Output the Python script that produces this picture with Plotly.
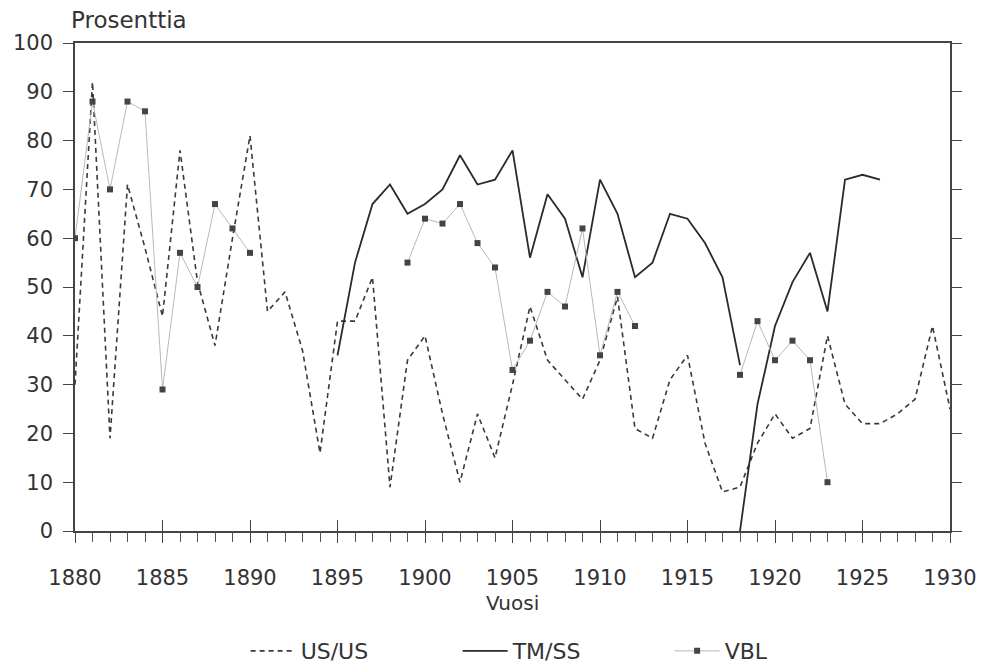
import plotly.graph_objects as go

us_years = list(range(1880, 1931))
us_values = [30, 92, 19, 71, 58, 44, 78, 51, 38, 60, 81, 45, 49, 37, 16, 43, 43, 52, 9, 35,
             40, 24, 10, 24, 15, 30, 46, 35, 31, 27, 35, 48, 21, 19, 31, 36, 18, 8, 9, 18,
             24, 19, 21, 40, 26, 22, 22, 24, 27, 42, 25]

tm_years = list(range(1895, 1919)) + [None] + list(range(1918, 1927))
tm_values = [36, 55, 67, 71, 65, 67, 70, 77, 71, 72, 78, 56, 69, 64, 52, 72, 65, 52, 55, 65,
             64, 59, 52, 34, None, 0, 26, 42, 51, 57, 45, 72, 73, 72]

vbl_years = list(range(1880, 1924))
vbl_values = [60, 88, 70, 88, 86, 29, 57, 50, 67, 62, 57,
              None, None, None, None, None, None, None, None,
              55, 64, 63, 67, 59, 54, 33, 39, 49, 46, 62, 36, 49, 42,
              None, None, None, None, None,
              32, 43, 35, 39, 35, 10]

series_names = ["US/US", "TM/SS", "VBL"]
y_title = "Prosenttia"
x_title = "Vuosi"

FONT = "DejaVu Sans"
TXT = "#333333"

fig = go.Figure()
fig.add_trace(go.Scatter(x=us_years, y=us_values, name=series_names[0], mode="lines",
                         line=dict(color="#3a3a3a", width=1.6, dash="5px,4px")))
fig.add_trace(go.Scatter(x=tm_years, y=tm_values, name=series_names[1], mode="lines",
                         connectgaps=False,
                         line=dict(color="#2a2a2a", width=1.8)))
fig.add_trace(go.Scatter(x=vbl_years, y=vbl_values, name=series_names[2], mode="lines+markers",
                         connectgaps=False,
                         line=dict(color="#b8b8b8", width=1),
                         marker=dict(symbol="square", size=6, color="#444444")))
# invisible trace carrying the crossing major ticks on an overlay axis
fig.add_trace(go.Scatter(x=[1880, 1930], y=[None, None], xaxis="x2", showlegend=False,
                         hoverinfo="skip"))

# page body has an 8px default margin, so the figure is sized/offset to compensate
fig.update_layout(
    width=979, height=658,
    margin=dict(l=67, r=37, t=35, b=135, autoexpand=False),
    paper_bgcolor="white", plot_bgcolor="white",
    font=dict(family=FONT, size=21, color=TXT),
    showlegend=True,
    legend=dict(orientation="h", x=0.195, xanchor="left", y=-0.246, yanchor="middle",
                font=dict(size=22, color=TXT), itemwidth=45, tracegroupgap=0,
                entrywidth=152, entrywidthmode="pixels"),
    xaxis=dict(range=[1880, 1930], dtick=5, tick0=1880, showgrid=False, zeroline=False,
               automargin=False,
               showline=True, linecolor="#444", linewidth=1.5, mirror=True,
               ticks="outside", ticklen=10, tickwidth=1.2, tickcolor="#444",
               minor=dict(dtick=1, ticks="outside", ticklen=9, tickwidth=1, tickcolor="#555"),
               ticklabelstandoff=17,
               tickfont=dict(size=21, color=TXT)),
    xaxis2=dict(range=[1880, 1930], dtick=5, tick0=1880, overlaying="x", side="bottom",
                automargin=False,
                showgrid=False, zeroline=False, showline=False, showticklabels=False,
                ticks="inside", ticklen=11, tickwidth=1.2, tickcolor="#444"),
    yaxis=dict(range=[0, 100], dtick=10, showgrid=False, zeroline=False,
               automargin=False,
               showline=True, linecolor="#444", linewidth=1.5, mirror="ticks",
               ticks="outside", ticklen=10, tickwidth=1.2, tickcolor="#444",
               ticklabelstandoff=6,
               tickfont=dict(size=21, color=TXT)),
    annotations=[
        dict(text=y_title, xref="paper", yref="paper", x=0.0, y=1.0, xanchor="left",
             yanchor="bottom", yshift=8, xshift=-6, showarrow=False,
             font=dict(size=23, color=TXT)),
        dict(text=x_title, xref="paper", yref="paper", x=0.5, y=0, xanchor="center",
             yanchor="middle", yshift=-72, showarrow=False, font=dict(size=20, color=TXT)),
    ],
)

fig.write_html("out.html")
